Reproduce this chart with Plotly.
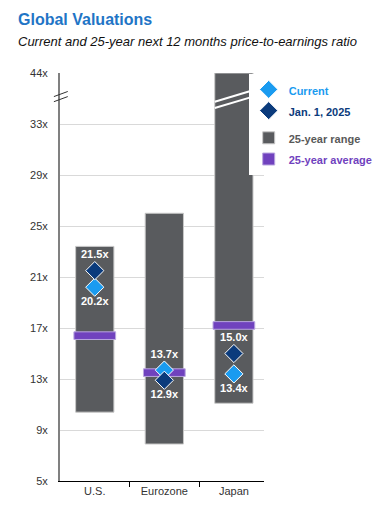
import plotly.graph_objects as go

# ---------------- data ----------------
categories = ["U.S.", "Eurozone", "Japan"]
range_low = [10.4, 7.9, 11.1]
range_high = [23.4, 26.0, 44.0]
avg_25y = [16.4, 13.5, 17.2]
current = [20.2, 13.7, 13.4]
jan_2025 = [21.5, 12.9, 15.0]
y_tick_values = [5, 9, 13, 17, 21, 25, 29, 33, 44]
y_tick_labels = ["5x", "9x", "13x", "17x", "21x", "25x", "29x", "33x", "44x"]

# ---------------- axis break (33x -> 44x compressed) ----------------
BREAK_START = 33.0
BREAK_SCALE = 4.0 / 11.0


def disp(v):
    return v if v <= BREAK_START else BREAK_START + (v - BREAK_START) * BREAK_SCALE


xs = list(range(len(categories)))
FONT = "Arial, Liberation Sans, sans-serif"
BAR_COLOR = "#595B5E"
CUR_COLOR = "#1A9BF0"
JAN_COLOR = "#0B3B7C"
AVG_COLOR = "#7042BE"
RANGE_W = 0.55
AVG_W = 0.6
AVG_THICK = 0.6
MARKER_SIZE = 14


def legend_label(text, color):
    return f"<span style='font-size:11px;color:{color}'><b>{text}</b></span>"


fig = go.Figure()

# 25-year range bars
fig.add_trace(go.Bar(
    x=xs, base=[disp(l) for l in range_low],
    y=[disp(h) - disp(l) for h, l in zip(range_high, range_low)],
    width=RANGE_W, marker=dict(color=BAR_COLOR, line=dict(color="#C8C8C8", width=1)),
    name=legend_label("25-year range", "#595959"),
    legendgroup="b", legendrank=3, hoverinfo="skip",
))
# 25-year average
fig.add_trace(go.Bar(
    x=xs, base=[a - AVG_THICK / 2 for a in avg_25y], y=[AVG_THICK] * len(xs),
    width=AVG_W, marker=dict(color=AVG_COLOR, line=dict(color="#B9A6E0", width=1)),
    name=legend_label("25-year average", AVG_COLOR),
    legendgroup="b", legendrank=4, hoverinfo="skip",
))
# current
fig.add_trace(go.Scatter(
    x=xs, y=current, mode="markers",
    marker=dict(symbol="diamond", size=MARKER_SIZE, color=CUR_COLOR, line=dict(color="white", width=1)),
    name=legend_label("Current", CUR_COLOR),
    legendgroup="a", legendrank=1, hoverinfo="skip",
))
# Jan 1 2025
fig.add_trace(go.Scatter(
    x=xs, y=jan_2025, mode="markers",
    marker=dict(symbol="diamond", size=MARKER_SIZE, color=JAN_COLOR, line=dict(color="white", width=1)),
    name=legend_label("Jan. 1, 2025", JAN_COLOR),
    legendgroup="a", legendrank=2, hoverinfo="skip",
))

# value labels: higher marker labelled above, lower below
for series, other in ((current, jan_2025), (jan_2025, current)):
    fig.add_trace(go.Scatter(
        x=xs, y=series, mode="markers+text",
        marker=dict(size=MARKER_SIZE, color="rgba(0,0,0,0)"),
        text=[f"{v:.1f}x" for v in series],
        textposition=["top center" if v > o else "bottom center" for v, o in zip(series, other)],
        textfont=dict(color="white", size=11, family=FONT, weight="bold"),
        showlegend=False, hoverinfo="skip",
    ))

# break marks on y axis
axis_break = 35.15
shapes = []
for off in (0.2, -0.2):
    shapes.append(dict(type="line", xref="paper", yref="y",
                       x0=-0.03, x1=0.038, y0=axis_break + off - 0.2, y1=axis_break + off + 0.2,
                       line=dict(color="#333333", width=1)))
# break band across the Japan bar
jp = xs[2]
bar_break = 34.9
for off in (0.3, -0.2):
    shapes.append(dict(type="line", xref="x", yref="y",
                       x0=jp - RANGE_W / 2, x1=jp + RANGE_W / 2,
                       y0=bar_break + off - 0.45, y1=bar_break + off + 0.45,
                       line=dict(color="white", width=2)))

fig.update_layout(
    width=382, height=502,
    margin=dict(l=52, r=110, t=65, b=29),
    paper_bgcolor="white", plot_bgcolor="white",
    barmode="overlay",
    font=dict(family=FONT, size=11, color="#333333"),
    shapes=shapes,
    showlegend=True,
    legend=dict(x=0.925, y=0.998, xanchor="left", yanchor="top",
                bgcolor="white", borderwidth=0,
                font=dict(size=14, family=FONT),
                traceorder="grouped", tracegroupgap=6,
                itemwidth=30),
    annotations=[
        dict(text="<b>Global Valuations</b>", xref="paper", yref="paper",
             x=-0.214, y=1.13, xanchor="left", yanchor="middle", showarrow=False,
             font=dict(size=16, color="#1F75C6", family=FONT)),
        dict(text="<i>Current and 25-year next 12 months price-to-earnings ratio</i>",
             xref="paper", yref="paper", x=-0.214, y=1.076, xanchor="left", yanchor="middle",
             showarrow=False, font=dict(size=13, color="#111111", family=FONT)),
    ],
)

fig.update_xaxes(
    range=[-0.5, 2.433], tickvals=xs, ticktext=categories,
    showline=True, linecolor="#000000", linewidth=1, showgrid=False, zeroline=False,
    ticks="", tickfont=dict(size=11, color="#333333"),
    minor=dict(tickvals=[0.5, 1.5], ticks="outside", ticklen=5, tickcolor="#000000", showgrid=False),
)
fig.update_yaxes(
    range=[5, disp(44)], tickvals=[disp(v) for v in y_tick_values], ticktext=y_tick_labels,
    showline=True, linecolor="#808080", linewidth=2, showgrid=True, gridcolor="#D9D9D9",
    gridwidth=1, zeroline=False, ticks="", ticklabelstandoff=8,
    tickfont=dict(size=11, color="#333333"),
)

fig.write_html("out.html")
